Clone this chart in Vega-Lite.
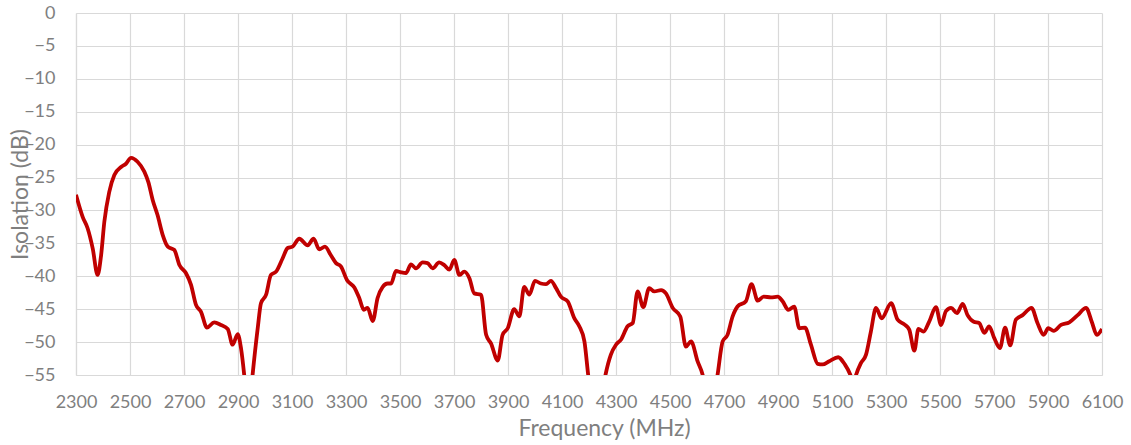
{
  "$schema": "https://vega.github.io/schema/vega-lite/v6.json",
  "width": 1026,
  "height": 362,
  "autosize": {"type": "none"},
  "padding": {"left": 76, "top": 13, "right": 29, "bottom": 70},
  "background": "white",
  "config": {
    "view": {"stroke": null},
    "font": "Lato",
    "axis": {
      "labelFont": "Lato",
      "titleFont": "Lato",
      "labelColor": "#7f7f7f",
      "titleColor": "#7f7f7f",
      "labelFontSize": 18,
      "titleFontSize": 23,
      "titleFontWeight": "normal",
      "gridColor": "#d9d9d9",
      "gridWidth": 1.2,
      "domainColor": "#d9d9d9",
      "domainWidth": 1.2,
      "ticks": false
    }
  },
  "data": {
    "values": [
      {"f": 2300, "v": -27.6}, {"f": 2325, "v": -31.0}, {"f": 2343, "v": -32.7}, {"f": 2362, "v": -35.8},
      {"f": 2380, "v": -39.8}, {"f": 2393, "v": -36.8}, {"f": 2405, "v": -31.7}, {"f": 2423, "v": -27.2},
      {"f": 2442, "v": -24.6}, {"f": 2467, "v": -23.4}, {"f": 2485, "v": -22.9}, {"f": 2504, "v": -22.0},
      {"f": 2528, "v": -22.6}, {"f": 2553, "v": -24.1}, {"f": 2568, "v": -25.7}, {"f": 2584, "v": -28.4},
      {"f": 2602, "v": -30.7}, {"f": 2621, "v": -33.7}, {"f": 2640, "v": -35.5}, {"f": 2664, "v": -36.0},
      {"f": 2683, "v": -38.3}, {"f": 2707, "v": -39.5}, {"f": 2726, "v": -41.3}, {"f": 2744, "v": -44.3},
      {"f": 2763, "v": -45.4}, {"f": 2785, "v": -47.8}, {"f": 2812, "v": -47.0}, {"f": 2837, "v": -47.4},
      {"f": 2862, "v": -48.0}, {"f": 2880, "v": -50.4}, {"f": 2899, "v": -48.8}, {"f": 2911, "v": -50.9},
      {"f": 2923, "v": -55.0}, {"f": 2938, "v": -62.0}, {"f": 2954, "v": -55.0}, {"f": 2973, "v": -47.9},
      {"f": 2985, "v": -44.1}, {"f": 3004, "v": -42.8}, {"f": 3022, "v": -39.8}, {"f": 3041, "v": -39.3},
      {"f": 3065, "v": -37.3}, {"f": 3084, "v": -35.7}, {"f": 3102, "v": -35.5}, {"f": 3127, "v": -34.3},
      {"f": 3158, "v": -35.3}, {"f": 3180, "v": -34.3}, {"f": 3201, "v": -35.9}, {"f": 3222, "v": -35.5},
      {"f": 3244, "v": -36.8}, {"f": 3263, "v": -38.0}, {"f": 3281, "v": -38.5}, {"f": 3304, "v": -40.6},
      {"f": 3331, "v": -41.7}, {"f": 3349, "v": -43.3}, {"f": 3366, "v": -45.1}, {"f": 3380, "v": -44.8},
      {"f": 3399, "v": -46.8}, {"f": 3417, "v": -43.3}, {"f": 3436, "v": -41.6}, {"f": 3454, "v": -41.1},
      {"f": 3467, "v": -41.1}, {"f": 3485, "v": -39.2}, {"f": 3504, "v": -39.4}, {"f": 3522, "v": -39.5},
      {"f": 3541, "v": -38.2}, {"f": 3559, "v": -38.8}, {"f": 3584, "v": -37.9}, {"f": 3602, "v": -38.0},
      {"f": 3621, "v": -38.8}, {"f": 3645, "v": -37.9}, {"f": 3664, "v": -38.3}, {"f": 3683, "v": -39.0},
      {"f": 3701, "v": -37.5}, {"f": 3720, "v": -39.8}, {"f": 3738, "v": -39.3}, {"f": 3757, "v": -40.3},
      {"f": 3775, "v": -42.6}, {"f": 3800, "v": -42.8}, {"f": 3819, "v": -48.9}, {"f": 3837, "v": -50.2},
      {"f": 3862, "v": -52.8}, {"f": 3880, "v": -48.9}, {"f": 3899, "v": -47.9}, {"f": 3923, "v": -45.0},
      {"f": 3942, "v": -46.1}, {"f": 3960, "v": -41.6}, {"f": 3979, "v": -42.8}, {"f": 4000, "v": -40.7},
      {"f": 4022, "v": -41.1}, {"f": 4041, "v": -41.2}, {"f": 4059, "v": -40.7}, {"f": 4078, "v": -41.8},
      {"f": 4096, "v": -43.1}, {"f": 4121, "v": -43.8}, {"f": 4146, "v": -46.4}, {"f": 4164, "v": -47.6},
      {"f": 4183, "v": -49.9}, {"f": 4197, "v": -55.0}, {"f": 4228, "v": -64.0}, {"f": 4261, "v": -55.0},
      {"f": 4281, "v": -51.9}, {"f": 4300, "v": -50.4}, {"f": 4319, "v": -49.6}, {"f": 4343, "v": -47.6},
      {"f": 4362, "v": -47.1}, {"f": 4380, "v": -42.3}, {"f": 4401, "v": -44.7}, {"f": 4423, "v": -41.8},
      {"f": 4442, "v": -42.3}, {"f": 4467, "v": -42.1}, {"f": 4485, "v": -42.6}, {"f": 4510, "v": -44.8},
      {"f": 4538, "v": -46.1}, {"f": 4559, "v": -50.7}, {"f": 4578, "v": -49.9}, {"f": 4602, "v": -52.9},
      {"f": 4621, "v": -55.0}, {"f": 4648, "v": -62.0}, {"f": 4676, "v": -55.0}, {"f": 4695, "v": -49.9},
      {"f": 4713, "v": -48.9}, {"f": 4732, "v": -46.1}, {"f": 4750, "v": -44.6}, {"f": 4781, "v": -43.8},
      {"f": 4802, "v": -41.2}, {"f": 4825, "v": -43.7}, {"f": 4847, "v": -43.1}, {"f": 4874, "v": -43.2},
      {"f": 4899, "v": -43.1}, {"f": 4917, "v": -43.8}, {"f": 4938, "v": -45.1}, {"f": 4960, "v": -44.6},
      {"f": 4979, "v": -47.9}, {"f": 5000, "v": -47.8}, {"f": 5022, "v": -50.4}, {"f": 5047, "v": -53.3},
      {"f": 5065, "v": -53.4}, {"f": 5090, "v": -52.9}, {"f": 5123, "v": -52.3}, {"f": 5146, "v": -53.3},
      {"f": 5168, "v": -55.0}, {"f": 5179, "v": -56.5}, {"f": 5189, "v": -55.0}, {"f": 5207, "v": -53.2},
      {"f": 5226, "v": -51.9}, {"f": 5244, "v": -48.4}, {"f": 5263, "v": -44.8}, {"f": 5284, "v": -46.4},
      {"f": 5319, "v": -44.1}, {"f": 5343, "v": -46.6}, {"f": 5368, "v": -47.3}, {"f": 5386, "v": -48.1},
      {"f": 5405, "v": -51.3}, {"f": 5420, "v": -48.0}, {"f": 5439, "v": -48.4}, {"f": 5460, "v": -46.9},
      {"f": 5485, "v": -44.7}, {"f": 5504, "v": -47.4}, {"f": 5522, "v": -45.3}, {"f": 5541, "v": -44.8},
      {"f": 5563, "v": -45.6}, {"f": 5584, "v": -44.2}, {"f": 5602, "v": -45.9}, {"f": 5625, "v": -46.9},
      {"f": 5645, "v": -47.1}, {"f": 5664, "v": -48.6}, {"f": 5682, "v": -47.6}, {"f": 5701, "v": -49.4},
      {"f": 5722, "v": -50.9}, {"f": 5741, "v": -47.8}, {"f": 5760, "v": -50.5}, {"f": 5781, "v": -46.6},
      {"f": 5806, "v": -45.9}, {"f": 5839, "v": -44.8}, {"f": 5861, "v": -47.1}, {"f": 5884, "v": -48.9},
      {"f": 5901, "v": -47.9}, {"f": 5921, "v": -48.3}, {"f": 5948, "v": -47.4}, {"f": 5979, "v": -47.0},
      {"f": 6010, "v": -45.9}, {"f": 6041, "v": -44.8}, {"f": 6062, "v": -46.9}, {"f": 6081, "v": -48.9},
      {"f": 6100, "v": -48.0}
    ]
  },
  "mark": {"type": "line", "color": "#c00000", "strokeWidth": 3.8, "interpolate": "monotone", "clip": true},
  "encoding": {
    "x": {
      "field": "f",
      "type": "quantitative",
      "scale": {"domain": [2300, 6100], "nice": false, "zero": false},
      "axis": {
        "title": "Frequency (MHz)",
        "format": "d",
        "values": [2300, 2500, 2700, 2900, 3100, 3300, 3500, 3700, 3900, 4100, 4300, 4500, 4700, 4900, 5100, 5300, 5500, 5700, 5900, 6100],
        "labelPadding": 18,
        "labelFlush": false,
        "labelOverlap": false,
        "titleBaseline": "alphabetic",
        "titleY": 60,
        "titleX": 528
      }
    },
    "y": {
      "field": "v",
      "type": "quantitative",
      "scale": {"domain": [-55, 0], "nice": false, "zero": false},
      "axis": {
        "title": "Isolation (dB)",
        "format": "d",
        "values": [0, -5, -10, -15, -20, -25, -30, -35, -40, -45, -50, -55],
        "labelPadding": 21,
        "labelFlush": false,
        "labelOverlap": false,
        "titleAngle": -90,
        "titleBaseline": "alphabetic",
        "titleX": -49,
        "titleY": 181
      }
    }
  }
}
